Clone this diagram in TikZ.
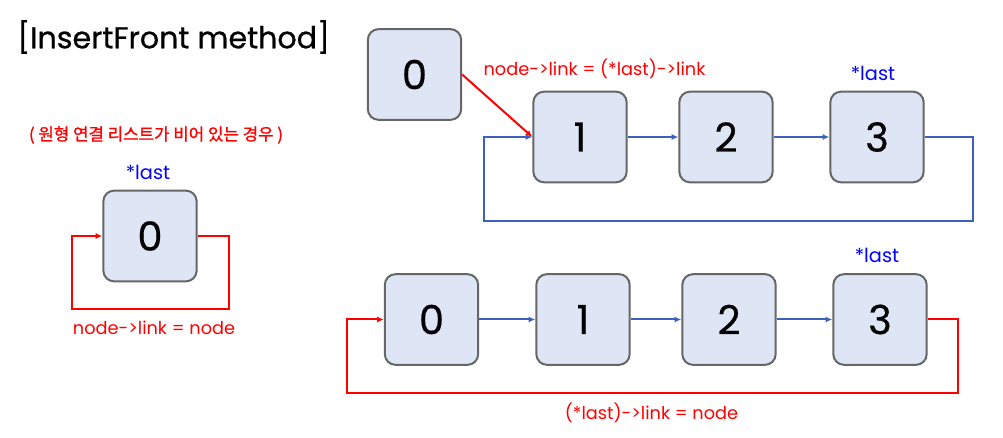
\documentclass[tikz,border=0pt]{standalone}
\usepackage{fontspec}
\setmainfont{Poppins}
\newfontfamily\titlefont{Poppins}[FakeBold=0.7]
\newfontfamily\digitfont{Poppins}[FakeBold=0.5]
\newfontfamily\krfont{Noto Sans CJK KR}[FakeBold=1.2]
\usetikzlibrary{arrows.meta}

\definecolor{boxfill}{RGB}{222,229,245}
\definecolor{boxline}{RGB}{102,102,102}
\definecolor{linkblue}{RGB}{62,96,190}
\definecolor{notered}{RGB}{255,0,0}
\definecolor{lastblue}{RGB}{0,0,255}

\tikzset{every picture/.style={line width=0.55pt}}
\tikzset{
  listnode/.style={draw=boxline, fill=boxfill, line width=1.5pt, rounded corners=8pt,
    minimum width=70pt, minimum height=68pt, inner sep=0pt, font=\digitfont\fontsize{30}{30}\selectfont},
  bluelink/.style={draw=linkblue, line width=1.5pt, -{Latex[length=5pt,width=4.5pt]}},
  redlink/.style={draw=notered, line width=1.5pt, -{Latex[length=5pt,width=4.5pt]}},
  redlabel/.style={text=notered, inner sep=0.75pt, font=\fontsize{13.3}{13.3}\selectfont},
  lastlabel/.style={text=lastblue, inner sep=0.75pt, font=\fontsize{14.5}{14.5}\selectfont}
}

\begin{document}
\begin{tikzpicture}[x=0.75pt,y=0.75pt,yscale=-1,xscale=1]
\useasboundingbox (0,0) rectangle (1003,438);

% Text Node
\node (title) [anchor=west, inner sep=0.75pt, font=\titlefont\fontsize{22.6}{22.6}\selectfont] at (16,37) {[InsertFront method]};

%Shape: Rounded Rect (empty list)
\node (e0) [listnode] at (150,236) {0};
% Text Node
\node (emptynote) [text=notered, font=\krfont\fontsize{12.6}{12.6}\selectfont] at (156,135) {( 원형 연결 리스트가 비어 있는 경우 )};
% Text Node
\node (elast) [lastlabel] at (148,172) {*last};
% Text Node
\node (elink) [redlabel] at (154,328) {node->link = node};
\coordinate (eR) at (229,309);
\coordinate (eL) at (72,309);
%Straight Lines
\draw [redlink] (e0.east) -| (eR) -- (eL) |- (e0.west);

%Shape: Rounded Rect (before)
\node (t0) [listnode] at (414.5,74.5) {0};
\node (t1) [listnode] at (580,137) {1};
\node (t2) [listnode] at (726,137) {2};
\node (t3) [listnode] at (877,137) {3};
% Text Node
\node (tlast) [lastlabel] at (873,73) {*last};
% Text Node
\node (tlink) [redlabel] at (594.5,69) {node->link = (*last)->link};
%Straight Lines
\draw [redlink] (t0.east) -- (t1.west);
\draw [bluelink] (t1) -- (t2);
\draw [bluelink] (t2) -- (t3);
\coordinate (tR) at (973,221);
\coordinate (tL) at (484,221);
\draw [bluelink] (t3.east) -| (tR) -- (tL) |- (t1.west);

%Shape: Rounded Rect (after)
\node (b0) [listnode] at (431.5,319.5) {0};
\node (b1) [listnode] at (583,319.5) {1};
\node (b2) [listnode] at (729,319.5) {2};
\node (b3) [listnode] at (880,319.5) {3};
% Text Node
\node (blast) [lastlabel] at (877,255) {*last};
% Text Node
\node (blink) [redlabel] at (651.5,413) {(*last)->link = node};
%Straight Lines
\draw [bluelink] (b0) -- (b1);
\draw [bluelink] (b1) -- (b2);
\draw [bluelink] (b2) -- (b3);
\coordinate (bR) at (958,393);
\coordinate (bL) at (347,393);
\draw [redlink] (b3.east) -| (bR) -- (bL) |- (b0.west);

\end{tikzpicture}
\end{document}
